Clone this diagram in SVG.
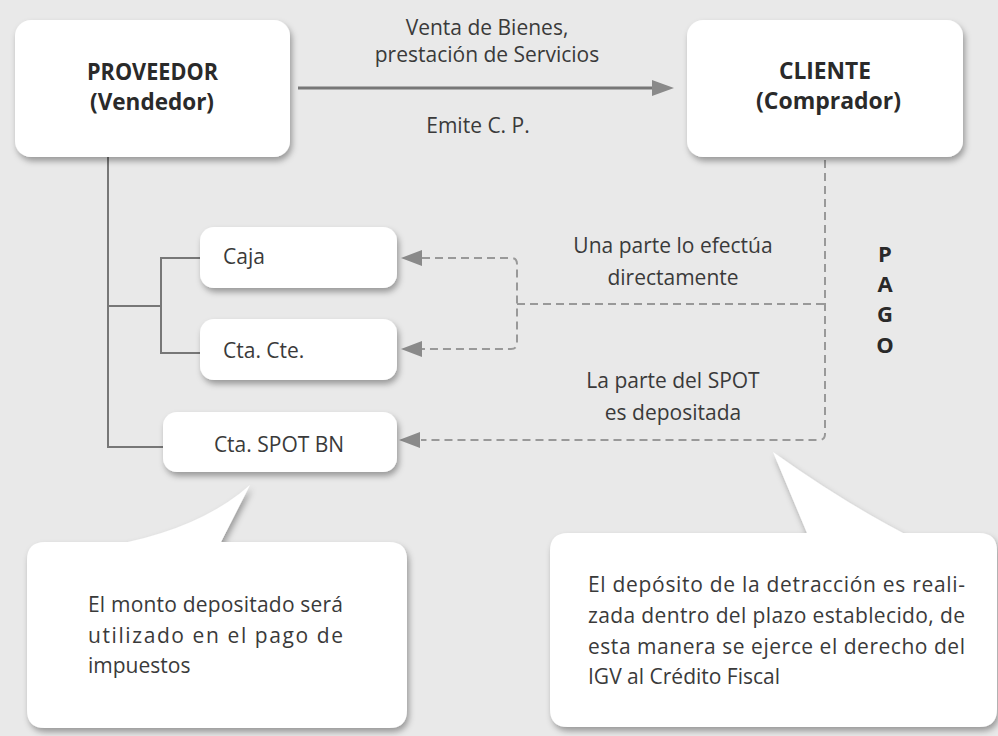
<svg xmlns="http://www.w3.org/2000/svg" width="998" height="736" viewBox="0 0 998 736">
<defs>
<filter id="sh" x="-10%" y="-10%" width="130%" height="140%">
<feDropShadow dx="2" dy="4" stdDeviation="3" flood-color="#000" flood-opacity="0.35"/>
</filter>
<style>
.box{fill:#fff;filter:url(#sh)}
.t{font-family:"Open Sans","Liberation Sans",sans-serif;font-size:21px;fill:#3a3a3a}
.h{font-family:"Open Sans","Liberation Sans",sans-serif;font-size:22.5px;font-weight:bold;fill:#2a2a2a}
.p{font-family:"Open Sans","Liberation Sans",sans-serif;font-size:22px;font-weight:bold;fill:#2a2a2a}
.solid{fill:none;stroke:#777;stroke-width:2}
.dash{fill:none;stroke:#999;stroke-width:2;stroke-dasharray:8 5}
.ah{fill:#8a8a8a}
</style>
</defs>
<rect x="0" y="0" width="998" height="736" fill="#e9e9e9"/>
<g id="connectors">
<line class="solid" x1="298" y1="88" x2="655" y2="88" style="stroke-width:3"/>
<polygon class="ah" points="674,88 652,80 652,96"/>
<path class="solid" d="M108 157 V447 H163 M108 306 H161 M200 258 H161 V353 H200"/>
<path class="dash" d="M422 258 H511 Q517 258 517 264 V343 Q517 349 511 349 H422 M517 304 H825 M825 160 V434 Q825 440 819 440 H421"/>
<polygon class="ah" points="401,258 422,250 422,266"/>
<polygon class="ah" points="401,349 422,341 422,357"/>
<polygon class="ah" points="399,440 420,432 420,448"/>
</g>
<g id="proveedor">
<rect class="box" x="15" y="20" width="275" height="137" rx="16"/>
<text class="h" x="87" y="80" textLength="131" lengthAdjust="spacingAndGlyphs">PROVEEDOR</text>
<text class="h" x="90" y="110" textLength="124" lengthAdjust="spacingAndGlyphs">(Vendedor)</text>
</g>
<g id="cliente">
<rect class="box" x="687" y="20" width="276" height="137" rx="16"/>
<text class="h" x="779" y="79" textLength="92" lengthAdjust="spacingAndGlyphs">CLIENTE</text>
<text class="h" x="756" y="109" textLength="145" lengthAdjust="spacingAndGlyphs">(Comprador)</text>
</g>
<g id="labels">
<text class="t" x="487" y="35" text-anchor="middle">Venta de Bienes,</text>
<text class="t" x="487" y="62" text-anchor="middle">prestación de Servicios</text>
<text class="t" x="478" y="133" text-anchor="middle">Emite C. P.</text>
<text class="t" x="673" y="253" text-anchor="middle">Una parte lo efectúa</text>
<text class="t" x="673" y="285" text-anchor="middle">directamente</text>
<text class="t" x="673" y="388" text-anchor="middle">La parte del SPOT</text>
<text class="t" x="673" y="420" text-anchor="middle">es depositada</text>
<text class="p" x="885" y="262" text-anchor="middle">P</text>
<text class="p" x="885" y="292" text-anchor="middle">A</text>
<text class="p" x="885" y="322" text-anchor="middle">G</text>
<text class="p" x="885" y="353" text-anchor="middle">O</text>
</g>
<g id="caja">
<rect class="box" x="200" y="227" width="197" height="61" rx="14"/>
<text class="t" x="223" y="264">Caja</text>
</g>
<g id="ctacte">
<rect class="box" x="200" y="319" width="197" height="61" rx="14"/>
<text class="t" x="223" y="358">Cta. Cte.</text>
</g>
<g id="ctaspot">
<rect class="box" x="163" y="412" width="234" height="60" rx="14"/>
<text class="t" x="279" y="452" text-anchor="middle">Cta. SPOT BN</text>
</g>
<g id="nota-izq">
<path class="box" d="M45 542 L128 542 Q205 525 250 485 L221 542 L389 542 Q407 542 407 560 L407 710 Q407 728 389 728 L45 728 Q27 728 27 710 L27 560 Q27 542 45 542 Z"/>
<text class="t" x="88" y="612" textLength="255" lengthAdjust="spacing">El monto depositado será</text>
<text class="t" x="88" y="643" textLength="255" lengthAdjust="spacing">utilizado en el pago de</text>
<text class="t" x="88" y="673">impuestos</text>
</g>
<g id="nota-der">
<path class="box" d="M568 533 L807 533 L773 452 Q840 500 903 533 L979 533 Q997 533 997 551 L997 709 Q997 727 979 727 L568 727 Q550 727 550 709 L550 551 Q550 533 568 533 Z"/>
<text class="t" x="588" y="592" textLength="377" lengthAdjust="spacing">El depósito de la detracción es reali-</text>
<text class="t" x="588" y="623" textLength="377" lengthAdjust="spacing">zada dentro del plazo establecido, de</text>
<text class="t" x="588" y="654" textLength="377" lengthAdjust="spacing">esta manera se ejerce el derecho del</text>
<text class="t" x="588" y="684">IGV al Crédito Fiscal</text>
</g>
</svg>
